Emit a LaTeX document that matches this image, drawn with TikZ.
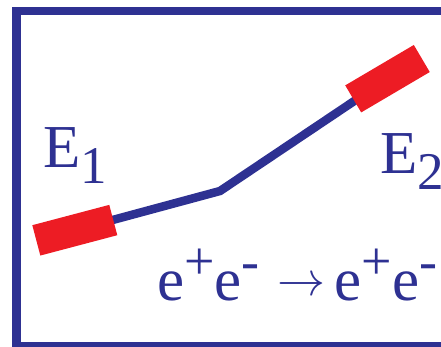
\documentclass[tikz,border=0pt]{standalone}
\usepackage{fontspec}
\setmainfont{Liberation Serif}
\definecolor{frameblue}{HTML}{2E3192}
\definecolor{padred}{HTML}{ED1C24}
% 字号：正文与上下标
\newcommand{\bigsize}{\fontsize{61}{61}\selectfont}
\newcommand{\upsym}[1]{\raisebox{21pt}{\fontsize{54}{54}\selectfont #1}}
\newcommand{\downsym}[1]{\raisebox{-16pt}{\fontsize{53}{53}\selectfont #1}}
\newcommand{\toarrow}{\raisebox{5pt}{\resizebox{48pt}{!}{$\rightarrow$}}}

\begin{document}
\begin{tikzpicture}[
        x=1pt, y=-1pt, % 以像素为单位，y 轴向下
        pad/.style={fill=padred, minimum width=79.6pt, minimum height=31.4pt,
            inner sep=0pt, outer sep=0pt},
        track/.style={draw=frameblue, line width=8.5pt},
        label/.style={text=frameblue, font=\bigsize, inner sep=0pt, anchor=base west}
    ]
    % 画布大小
    \clip (0,0) rectangle (441,346);

    % --- 外框（右边超出画面） ---
    \draw[frameblue, line width=8.5pt] (16.7,346.5) -- (16.7,11.2) -- (470,11.2);
    \draw[frameblue, line width=8.5pt] (16.7,346.5) -- (470,346.5);

    % --- 径迹 ---
    \coordinate (E1c) at (74.8,230.2);
    \coordinate (E2c) at (387.5,78.7);
    \coordinate (kink) at (220,191);
    \draw[track] (E1c) -- (kink) -- (E2c);
    % 红色块盖住线的两端
    \node[pad, rotate=14.8] (E1pad) at (E1c) {};
    \node[pad, rotate=30.5] (E2pad) at (E2c) {};

    % --- 标注 ---
    \node[label] (E1) at (43.3,167.7) {E\downsym{1}};
    \node[label] (E2) at (380,173.3) {E\downsym{2}};
    \node[label] (react) at (157,300) {e\upsym{+}e\upsym{-}\hspace{18pt}\toarrow\hspace{9pt}e\upsym{+}e\upsym{-}};

\end{tikzpicture}
\end{document}
